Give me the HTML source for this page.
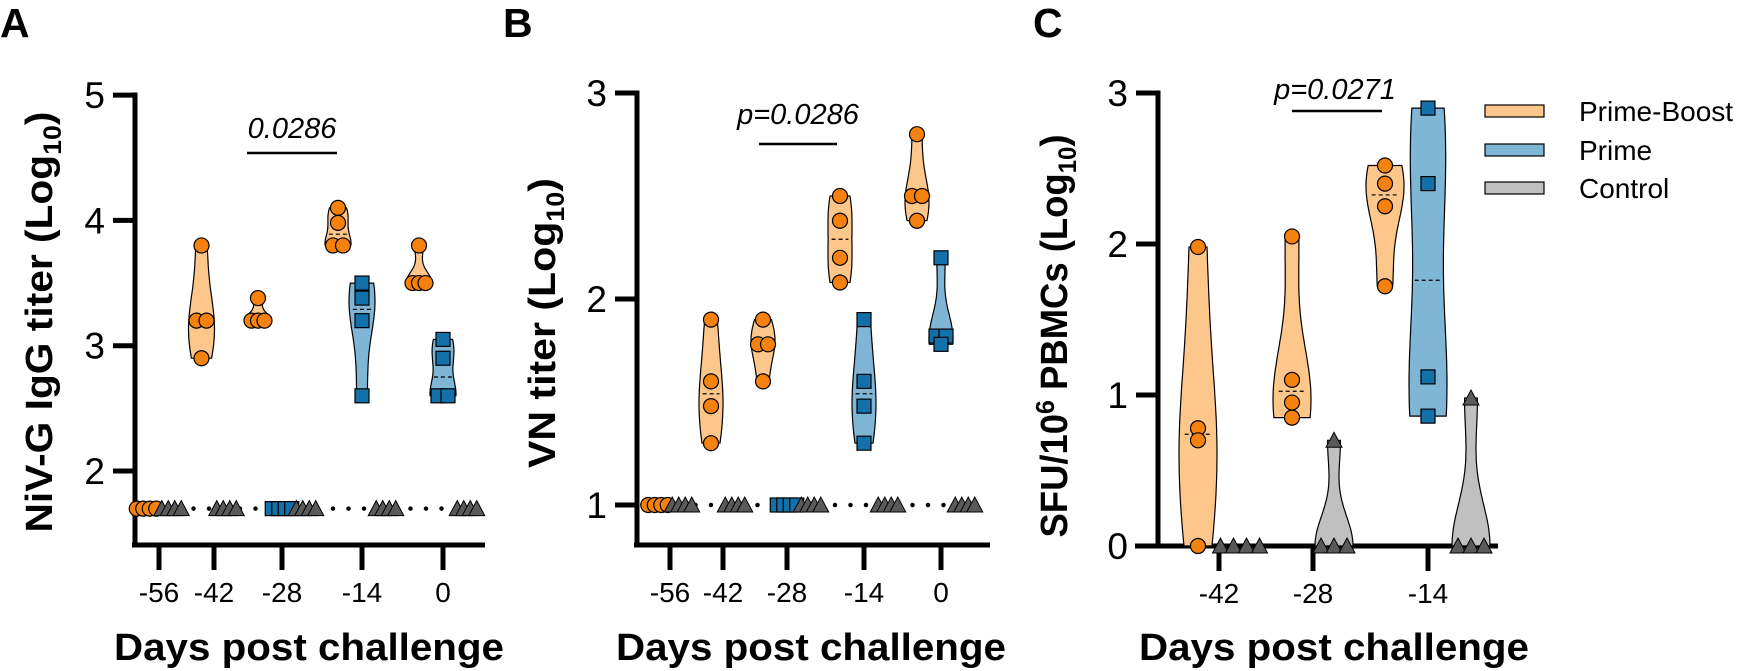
<!DOCTYPE html>
<html><head><meta charset="utf-8">
<style>
html,body{margin:0;padding:0;background:#fff;}
svg{display:block;font-family:"Liberation Sans",Arial,sans-serif;}
</style></head>
<body>
<svg id="fig" width="1742" height="671" viewBox="0 0 1742 671" xmlns="http://www.w3.org/2000/svg">
<g id="root"></g>
</svg>
<script>
// ---------- Panel A data (NiV-G IgG titer, log10) ----------
const aDays = ["-56","-42","-28","-14","0"];
const aPB = [[1.7,1.7,1.7,1.7],[3.8,3.2,3.2,2.9],[3.38,3.2,3.2,3.2],[4.1,3.98,3.8,3.8],[3.8,3.5,3.5,3.5]];
const aPrime = [null,null,[1.7,1.7,1.7,1.7],[3.5,3.38,3.2,2.6],[3.05,2.9,2.6,2.6]];
const aCtrl = [[1.7,1.7,1.7,1.7],[1.7,1.7,1.7,1.7],[1.7,1.7,1.7,1.7],[1.7,1.7,1.7,1.7],[1.7,1.7,1.7,1.7]];
const aTicks = [2,3,4,5];
// ---------- Panel B data (VN titer, log10) ----------
const bDays = ["-56","-42","-28","-14","0"];
const bPB = [[1,1,1,1],[1.9,1.6,1.48,1.3],[1.9,1.78,1.78,1.6],[2.5,2.38,2.2,2.08],[2.8,2.5,2.5,2.38]];
const bPrime = [null,null,[1,1,1,1],[1.9,1.6,1.48,1.3],[2.2,1.82,1.82,1.78]];
const bCtrl = [[1,1,1,1],[1,1,1,1],[1,1,1,1],[1,1,1,1],[1,1,1,1]];
const bTicks = [1,2,3];
// ---------- Panel C data (SFU/10^6 PBMCs, log10) ----------
const cDays = ["-42","-28","-14"];
const cPB = [[1.98,0.78,0.7,0],[2.05,1.1,0.95,0.85],[2.52,2.4,2.25,1.72]];
const cPrime = [null,null,[2.9,2.4,1.12,0.86]];
const cCtrl = [[0,0,0,0],[0.7,0,0,0],[0.98,0,0,0]];
const cTicks = [0,1,2,3];

const NS="http://www.w3.org/2000/svg";
const root=document.getElementById('root');
function mk(tag,attrs,parent){const e=document.createElementNS(NS,tag);for(const k in attrs)e.setAttribute(k,attrs[k]);(parent||root).appendChild(e);return e;}

const COL={pb:{fill:"#fdc68a",pt:"#f5820f"},pr:{fill:"#7fb5d5",pt:"#1470a8"},ct:{fill:"#c0c0c0",pt:"#5a5a5a"}};

function violinPath(vals,cx,y,hw){
  const mn=Math.min(...vals),mx=Math.max(...vals);
  const bw=Math.max(0.06,0.3*(mx-mn));
  const N=40,pts=[];let maxd=0;
  for(let i=0;i<=N;i++){const v=mn+(mx-mn)*i/N;let d=0;vals.forEach(x=>{d+=Math.exp(-0.5*((v-x)/bw)**2);});pts.push([v,d]);if(d>maxd)maxd=d;}
  let L=[],R=[];
  pts.forEach(([v,d])=>{const w=hw*d/maxd;L.push([cx-w,y(v)]);R.push([cx+w,y(v)]);});
  const all=L.concat(R.reverse());
  return "M"+all.map(p=>p[0].toFixed(1)+","+p[1].toFixed(1)).join("L")+"Z";
}
function median(a){const s=[...a].sort((x,y)=>x-y);return (s[1]+s[2])/2;}

function drawMarker(kind,x,yy,g){
  let e;
  if(kind==="pb"){e=mk('circle',{cx:x,cy:yy,r:7.5,fill:COL.pb.pt,stroke:"#000","stroke-width":1.2},g);}
  else if(kind==="pr"){e=mk('rect',{x:x-7,y:yy-7,width:14,height:14,fill:COL.pr.pt,stroke:"#000","stroke-width":1.2},g);}
  else {e=mk('path',{d:`M${x-8},${yy+7}L${x},${yy-8}L${x+8},${yy+7}Z`,fill:COL.ct.pt,stroke:"#000","stroke-width":1},g);}
  
  
}

function drawGroup(kind,vals,cx,y,hw,opt,label){
  const g=mk('g',{});
  
  
  const mn=Math.min(...vals),mx=Math.max(...vals);
  if(mx-mn>0.001){
    const p=mk('path',{d:violinPath(vals,cx,y,hw),fill:COL[kind].fill,stroke:"#000","stroke-width":1.2},g);
    
    
    const m=median(vals);
    const ml=mk('line',{x1:cx-hw*0.7,x2:cx+hw*0.7,y1:y(m),y2:y(m),stroke:"#000","stroke-width":1.2,"stroke-dasharray":"4 3"},g);
    
    
  }
  const groups={};
  vals.forEach(v=>{const k=v.toFixed(3);groups[k]=(groups[k]||0)+1;});
  Object.keys(groups).forEach(k=>{
    const n=groups[k];const v=parseFloat(k);
    const s=n>2?opt.dense:opt.pair;
    for(let i=0;i<n;i++){drawMarker(kind,cx+(i-(n-1)/2)*s,y(v),g);}
  });
}

function panel(cfg){
  const {axX,axTop,axBot,axRight,y,ticks,days,tickX,pb,pr,ct,off,hw,opt}=cfg;
  const g=mk('g',{});
  
  
  if(cfg.lod!==undefined){
    const l=mk('line',{x1:axX+12,x2:axRight-8,y1:y(cfg.lod),y2:y(cfg.lod),stroke:"#000","stroke-width":4.5,"stroke-linecap":"round","stroke-dasharray":"0 15.5"},g);
    
    
  }
  const ya=mk('line',{x1:axX,x2:axX,y1:axTop-2.5,y2:axBot+2.5,stroke:"#000","stroke-width":5},g);
  
  
  ticks.forEach(t=>{
    const tl=mk('line',{x1:axX-22,x2:axX,y1:y(t),y2:y(t),stroke:"#000","stroke-width":5},g);
    
    
    const tx=mk('text',{x:axX-30,y:y(t)+13,"text-anchor":"end","font-size":37},g);
    tx.textContent=t;
    
    
  });
  const xa=mk('line',{x1:cfg.xStart,x2:axRight,y1:axBot,y2:axBot,stroke:"#000","stroke-width":5},g);
  
  
  days.forEach((d,i)=>{
    const x=tickX[i];
    const tl=mk('line',{x1:x,x2:x,y1:axBot,y2:axBot+25,stroke:"#000","stroke-width":5},g);
    
    
    const tx=mk('text',{x:x,y:axBot+57,"text-anchor":"middle","font-size":28},g);
    tx.textContent=d;
    
    
    const three=pr[i]!==null;
    const o=three?off:cfg.off2;
    drawGroup('pb',pb[i],x-o,y,hw,opt,'prime-boost-day'+d);
    if(three) drawGroup('pr',pr[i],x,y,hw,opt,'prime-day'+d);
    drawGroup('ct',ct[i],x+o,y,hw,opt,'control-day'+d);
  });
}

const yA=v=>471-(v-2)*125.3;
panel({name:'panel-a',axX:135,axTop:95,axBot:545,axRight:485,xStart:132,y:yA,ticks:aTicks,days:aDays,tickX:[159,214,282,362,443],pb:aPB,pr:aPrime,ct:aCtrl,off:24,off2:12.5,hw:13,opt:{dense:6.5,pair:10},lod:1.7});
const yB=v=>505-(v-1)*206;
panel({name:'panel-b',axX:637,axTop:93,axBot:545,axRight:990,xStart:634,y:yB,ticks:bTicks,days:bDays,tickX:[670,723,787,864,941],pb:bPB,pr:bPrime,ct:bCtrl,off:24,off2:12,hw:12,opt:{dense:6.5,pair:10},lod:1});
const yC=v=>546-v*151;
panel({name:'panel-c',axX:1158,axTop:93,axBot:546,axRight:1498,xStart:1135,y:yC,ticks:cTicks,days:cDays,tickX:[1219,1313,1428],pb:cPB,pr:cPrime,ct:cCtrl,off:43,off2:21,hw:19,opt:{dense:13,pair:10}});

function txt(attrs,content,name){const t=mk('text',attrs);t.innerHTML=content;return t;}
txt({x:0,y:37,"font-size":41,"font-weight":"bold"},"A","panel-label-a");
txt({x:503,y:37,"font-size":41,"font-weight":"bold"},"B","panel-label-b");
txt({x:1033,y:37,"font-size":41,"font-weight":"bold"},"C","panel-label-c");

txt({x:0,y:0,"font-size":38,"font-weight":"bold","text-anchor":"middle",textLength:421,lengthAdjust:"spacingAndGlyphs",transform:"translate(52,322) rotate(-90)"},'NiV-G IgG titer (Log<tspan font-size="25" dy="9">10</tspan><tspan dy="-9">)</tspan>',"y-axis-title-a");
txt({x:0,y:0,"font-size":38,"font-weight":"bold","text-anchor":"middle",textLength:290,lengthAdjust:"spacingAndGlyphs",transform:"translate(555,323) rotate(-90)"},'VN titer (Log<tspan font-size="25" dy="9">10</tspan><tspan dy="-9">)</tspan>',"y-axis-title-b");
txt({x:0,y:0,"font-size":38,"font-weight":"bold","text-anchor":"middle",textLength:403,lengthAdjust:"spacingAndGlyphs",transform:"translate(1067,336) rotate(-90)"},'SFU/10<tspan font-size="26" dy="-13">6</tspan><tspan dy="13"> PBMCs (Log</tspan><tspan font-size="25" dy="9">10</tspan><tspan dy="-9">)</tspan>',"y-axis-title-c");

txt({x:309,y:660,"font-size":38,"font-weight":"bold","text-anchor":"middle",textLength:390,lengthAdjust:"spacingAndGlyphs"},"Days post challenge","x-axis-title-a");
txt({x:811,y:660,"font-size":38,"font-weight":"bold","text-anchor":"middle",textLength:390,lengthAdjust:"spacingAndGlyphs"},"Days post challenge","x-axis-title-b");
txt({x:1334,y:660,"font-size":38,"font-weight":"bold","text-anchor":"middle",textLength:390,lengthAdjust:"spacingAndGlyphs"},"Days post challenge","x-axis-title-c");

txt({x:292,y:138,"font-size":29,"font-style":"italic","text-anchor":"middle"},"0.0286","p-value-a");
let s=mk('line',{x1:247,x2:337,y1:153,y2:153,stroke:"#000","stroke-width":2.5});


txt({x:798,y:124,"font-size":29,"font-style":"italic","text-anchor":"middle"},"p=0.0286","p-value-b");
s=mk('line',{x1:759,x2:837,y1:144,y2:144,stroke:"#000","stroke-width":2.5});


txt({x:1335,y:99,"font-size":29,"font-style":"italic","text-anchor":"middle"},"p=0.0271","p-value-c");
s=mk('line',{x1:1292,x2:1382,y1:111,y2:111,stroke:"#000","stroke-width":2.5});



const legNames=["Prime-Boost","Prime","Control"];
const legKeys=["pb","pr","ct"];
const legY=[111,150,188];
legNames.forEach((n,i)=>{
  const g=mk('g',{});
  
  
  mk('rect',{x:1485,y:legY[i]-6,width:59,height:12,fill:COL[legKeys[i]].fill,stroke:"#000","stroke-width":1.2},g);
  const t=mk('text',{x:1579,y:legY[i]+10,"font-size":28},g);
  t.textContent=n;
});
</script>
</body></html>
